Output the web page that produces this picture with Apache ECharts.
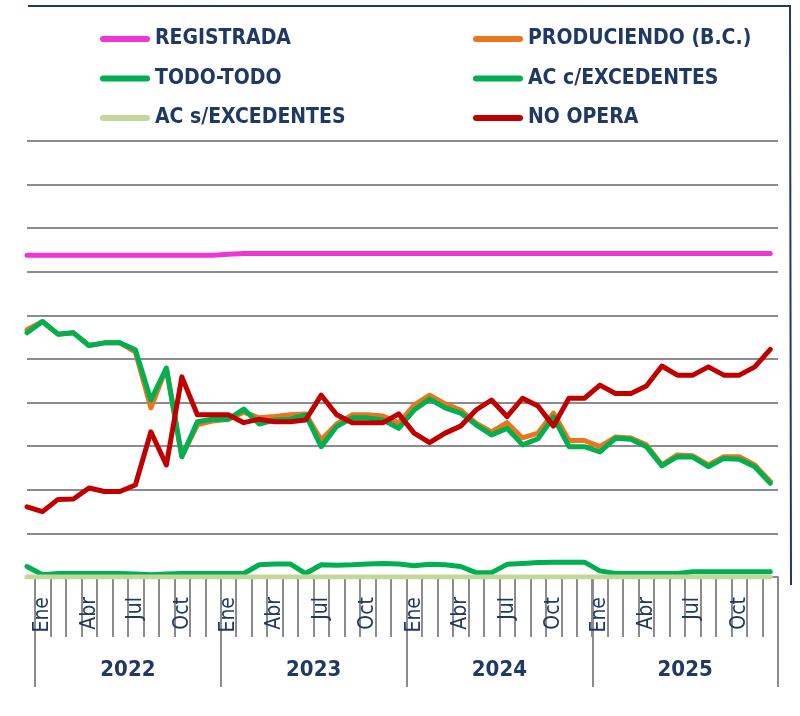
<!DOCTYPE html>
<html>
<head>
<meta charset="utf-8">
<script src="https://cdn.jsdelivr.net/npm/echarts@6/dist/echarts.min.js"></script>
<style>
  html, body { margin: 0; padding: 0; background: #fff; }
  #chart { width: 800px; height: 716px; }
</style>
</head>
<body>
<div id="chart"></div>
<script>
// categorias
const years = ['2022', '2023', '2024', '2025'];
const monthNames = ['Ene', 'Feb', 'Mar', 'Abr', 'May', 'Jun', 'Jul', 'Ago', 'Sep', 'Oct', 'Nov', 'Dic'];
const months = [];
years.forEach(() => monthNames.forEach(m => months.push(m)));

// series: primer valor = Dic 2021 (recortado a la izquierda), luego Ene 2022 .. Dic 2025
const registrada = [7.38,
  7.38, 7.38, 7.38, 7.38, 7.38, 7.38, 7.38, 7.38, 7.38, 7.38, 7.38, 7.38,
  7.40, 7.42, 7.42, 7.42, 7.42, 7.42, 7.42, 7.42, 7.42, 7.42, 7.42, 7.42,
  7.42, 7.42, 7.42, 7.42, 7.42, 7.42, 7.42, 7.42, 7.42, 7.42, 7.42, 7.42,
  7.42, 7.42, 7.42, 7.42, 7.42, 7.42, 7.42, 7.42, 7.42, 7.42, 7.42, 7.42];
const produciendo = [5.67,
  5.86, 5.57, 5.60, 5.31, 5.37, 5.37, 5.16, 3.88, 4.79, 2.76, 3.49, 3.58,
  3.62, 3.78, 3.65, 3.68, 3.72, 3.74, 3.14, 3.51, 3.72, 3.72, 3.69, 3.53,
  3.94, 4.17, 3.97, 3.83, 3.53, 3.33, 3.54, 3.19, 3.30, 3.76, 3.13, 3.13,
  2.99, 3.21, 3.19, 3.03, 2.57, 2.80, 2.78, 2.57, 2.76, 2.76, 2.57, 2.19];
const todoTodo = [5.60,
  5.86, 5.57, 5.60, 5.31, 5.37, 5.37, 5.21, 4.06, 4.79, 2.76, 3.56, 3.62,
  3.62, 3.85, 3.51, 3.60, 3.62, 3.72, 2.99, 3.45, 3.65, 3.65, 3.60, 3.41,
  3.83, 4.08, 3.88, 3.76, 3.49, 3.26, 3.41, 3.03, 3.17, 3.67, 2.99, 2.99,
  2.87, 3.18, 3.16, 2.99, 2.55, 2.76, 2.75, 2.53, 2.72, 2.70, 2.53, 2.15];
const acConExc = [0.24,
  0.05, 0.08, 0.08, 0.08, 0.08, 0.08, 0.07, 0.05, 0.07, 0.08, 0.08, 0.08,
  0.08, 0.08, 0.28, 0.30, 0.30, 0.08, 0.28, 0.27, 0.28, 0.30, 0.31, 0.30,
  0.26, 0.29, 0.28, 0.24, 0.10, 0.10, 0.29, 0.31, 0.33, 0.34, 0.34, 0.34,
  0.14, 0.08, 0.08, 0.08, 0.08, 0.08, 0.12, 0.12, 0.12, 0.12, 0.12, 0.12];
const acSinExc = [0,
  0, 0, 0, 0, 0, 0, 0, 0, 0, 0, 0, 0,
  0, 0, 0, 0, 0, 0, 0, 0, 0, 0, 0, 0,
  0, 0, 0, 0, 0, 0, 0, 0, 0, 0, 0, 0,
  0, 0, 0, 0, 0, 0, 0, 0, 0, 0, 0, 0];
const noOpera = [1.61,
  1.50, 1.78, 1.79, 2.04, 1.96, 1.96, 2.11, 3.33, 2.57, 4.59, 3.72, 3.72,
  3.72, 3.54, 3.62, 3.56, 3.56, 3.60, 4.17, 3.72, 3.54, 3.54, 3.54, 3.74,
  3.30, 3.08, 3.30, 3.46, 3.83, 4.06, 3.68, 4.10, 3.92, 3.46, 4.10, 4.10,
  4.40, 4.21, 4.21, 4.38, 4.84, 4.63, 4.63, 4.82, 4.63, 4.63, 4.82, 5.22];

const navy = '#1f3864';
const font = "'Liberation Sans Narrow', 'DejaVu Sans Condensed', sans-serif";
const pill = 'path://M3,0 H47 A3,3 0 0 1 47,6 H3 A3,3 0 0 1 3,0 Z';

// indice -1 = mes previo recortado
const toPoints = arr => arr.map((v, i) => [i - 1, v]);

const mkLine = (name, color, arr) => ({
  name: name,
  type: 'line',
  xAxisIndex: 0,
  yAxisIndex: 0,
  data: toPoints(arr),
  symbol: 'none',
  color: color,
  lineStyle: { width: 5, color: color, cap: 'round', join: 'round' },
  silent: true
});

const legendText = { fontSize: 21, lineHeight: 24, fontWeight: 'bold', color: navy, fontFamily: font };

const chart = echarts.init(document.getElementById('chart'));

const option = {
  backgroundColor: '#fff',
  animation: false,
  graphic: [{
    type: 'polyline',
    shape: { points: [[28, 6], [790, 6], [791, 585]] },
    style: { stroke: navy, lineWidth: 2, fill: null }
  }],
  legend: [
    {
      orient: 'vertical', left: 95, top: 22, itemGap: 15.5,
      itemWidth: 50, itemHeight: 6, selectedMode: false,
      icon: pill, textStyle: legendText,
      data: ['REGISTRADA', 'TODO-TODO', 'AC s/EXCEDENTES']
    },
    {
      orient: 'vertical', left: 468, top: 22, itemGap: 15.5,
      itemWidth: 50, itemHeight: 6, selectedMode: false,
      icon: pill, textStyle: legendText,
      data: ['PRODUCIENDO (B.C.)', 'AC c/EXCEDENTES', 'NO OPERA']
    }
  ],
  grid: [
    { left: 27, right: 22, top: 141, bottom: 139 },
    { left: 35, right: 22, top: 141, bottom: 139 }
  ],
  xAxis: [
    { gridIndex: 0, type: 'value', min: -1, max: 47.5, show: false },
    {
      gridIndex: 1, type: 'category', position: 'bottom', data: months, boundaryGap: true,
      axisLine: { show: true, lineStyle: { color: '#8c8c8c', width: 2 } },
      axisTick: { show: true, interval: 0, length: 60, lineStyle: { color: '#8c8c8c', width: 2 } },
      axisLabel: { interval: 2, rotate: 90, margin: 20, fontSize: 21, color: navy, fontFamily: font }
    },
    {
      gridIndex: 1, type: 'category', position: 'bottom', data: years, boundaryGap: true,
      axisLine: { show: false },
      axisTick: { show: true, interval: 0, length: 110, lineStyle: { color: '#8c8c8c', width: 2 } },
      axisLabel: { interval: 0, margin: 82, fontSize: 22, fontWeight: 'bold', color: navy, fontFamily: font }
    }
  ],
  yAxis: [
    {
      gridIndex: 0, type: 'value', min: 0, max: 10, interval: 1,
      axisLine: { show: false }, axisTick: { show: false }, axisLabel: { show: false },
      splitLine: { show: true, lineStyle: { color: '#8c8c8c', width: 2 } }
    },
    { gridIndex: 1, type: 'value', min: 0, max: 10, show: false, splitLine: { show: false } }
  ],
  series: [
    mkLine('REGISTRADA', '#ee36d8', registrada),
    mkLine('PRODUCIENDO (B.C.)', '#e8761e', produciendo),
    mkLine('TODO-TODO', '#00b050', todoTodo),
    mkLine('AC c/EXCEDENTES', '#00b050', acConExc),
    mkLine('AC s/EXCEDENTES', '#c4d79b', acSinExc),
    mkLine('NO OPERA', '#c00000', noOpera)
  ]
};

chart.setOption(option);
</script>
</body>
</html>
